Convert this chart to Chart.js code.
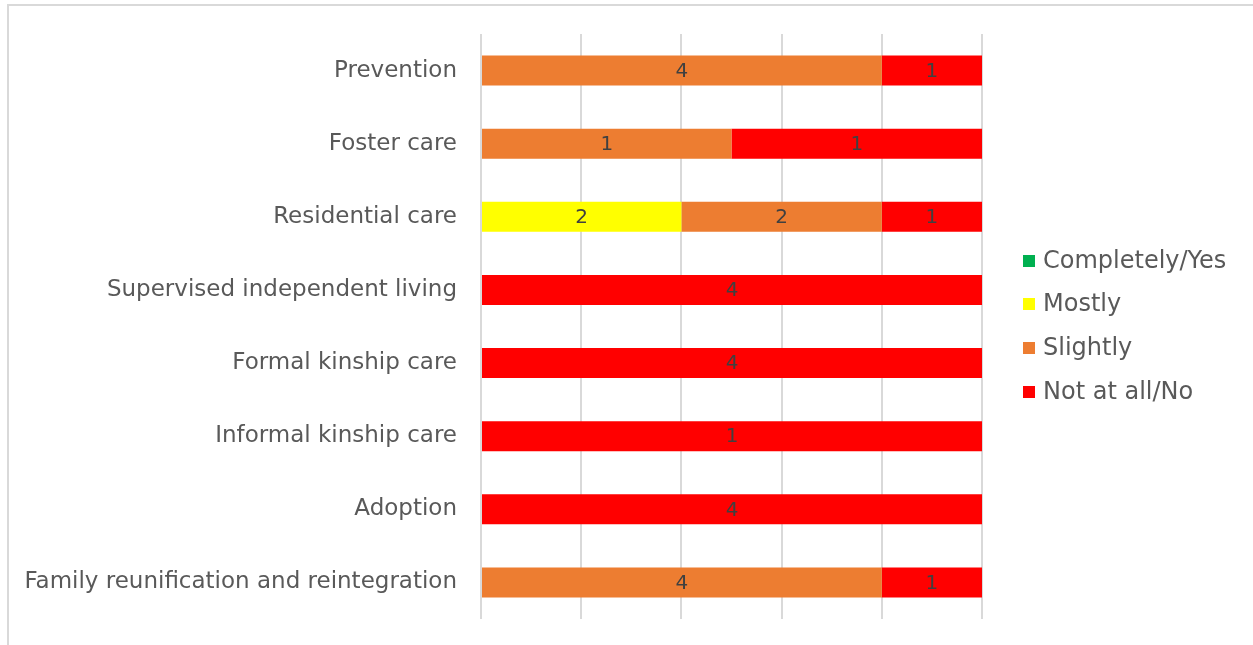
<!DOCTYPE html>
<html>
<head>
<meta charset="utf-8">
<script src="https://cdn.jsdelivr.net/npm/chart.js@4"></script>
<style>
  body { margin: 0; background: #fff; overflow: hidden; }
  #frame { position: absolute; left: 7px; top: 4px; width: 1260px; height: 660px;
           border-left: 2px solid #d9d9d9; border-top: 2px solid #d9d9d9; }
  #wrap { position: absolute; left: 0; top: 0; width: 1253px; height: 645px; }
</style>
</head>
<body>
<div id="frame"></div>
<div id="wrap"><canvas id="barChart"></canvas></div>
<script>
// Responses per care type (counts)
const categories = ['Prevention', 'Foster care', 'Residential care', 'Supervised independent living',
  'Formal kinship care', 'Informal kinship care', 'Adoption', 'Family reunification and reintegration'];
const completely = [0, 0, 0, 0, 0, 0, 0, 0];
const mostly     = [0, 0, 2, 0, 0, 0, 0, 0];
const slightly   = [4, 1, 2, 0, 0, 0, 0, 4];
const notAtAll   = [1, 1, 1, 4, 4, 1, 4, 1];
const xTicks = [0, 20, 40, 60, 80, 100];

const seriesNames = ['Completely/Yes', 'Mostly', 'Slightly', 'Not at all/No'];
const seriesCounts = [completely, mostly, slightly, notAtAll];
const seriesColors = ['#00b050', '#ffff00', '#ed7d31', '#ff0000'];

const totals = categories.map((_, i) => seriesCounts.reduce((s, arr) => s + arr[i], 0));
const FONT = '"DejaVu Sans", sans-serif';

// value labels in the middle of each segment
const segmentLabels = {
  id: 'segmentLabels',
  afterDatasetsDraw(chart) {
    const ctx = chart.ctx;
    ctx.save();
    ctx.font = '20px ' + FONT;
    ctx.fillStyle = '#404040';
    ctx.textAlign = 'center';
    ctx.textBaseline = 'middle';
    chart.data.datasets.forEach((ds, di) => {
      chart.getDatasetMeta(di).data.forEach((bar, i) => {
        const n = ds.counts[i];
        if (!n) return;
        const p = bar.getProps(['x', 'y', 'base'], true);
        ctx.fillText(String(n), (p.x + p.base) / 2, p.y + 1);
      });
    });
    ctx.restore();
  }
};

// legend column on the right
const sideLegend = {
  id: 'sideLegend',
  afterDraw(chart) {
    const ctx = chart.ctx;
    ctx.save();
    ctx.font = '24px ' + FONT;
    ctx.textBaseline = 'middle';
    const rows = [261, 304, 348, 392];
    chart.data.datasets.forEach((ds, di) => {
      const y = rows[di];
      ctx.fillStyle = ds.backgroundColor;
      ctx.fillRect(1023, y - 6, 12, 12);
      ctx.fillStyle = '#595959';
      ctx.fillText(ds.label, 1043, y + 1);
    });
    ctx.restore();
  }
};

new Chart(document.getElementById('barChart'), {
  type: 'bar',
  data: {
    labels: categories,
    datasets: seriesNames.map((name, k) => ({
      label: name,
      counts: seriesCounts[k],
      data: seriesCounts[k].map((v, i) => v / totals[i] * 100),
      backgroundColor: seriesColors[k],
      borderWidth: 0,
      barPercentage: 0.41,
      categoryPercentage: 1
    }))
  },
  options: {
    indexAxis: 'y',
    responsive: true,
    maintainAspectRatio: false,
    animation: false,
    layout: { padding: { left: 0, right: 271, top: 34, bottom: 26 } },
    plugins: {
      legend: { display: false },
      tooltip: { enabled: false }
    },
    scales: {
      x: {
        stacked: true,
        min: xTicks[0],
        max: xTicks[xTicks.length - 1],
        afterBuildTicks: (scale) => { scale.ticks = xTicks.map(v => ({ value: v })); },
        afterFit: (scale) => { scale.height = 0; },
        ticks: { display: false },
        border: { display: false },
        grid: { color: '#d9d9d9', lineWidth: 2, drawTicks: false }
      },
      y: {
        stacked: true,
        afterFit: (scale) => {
          scale.width = 481;
          scale.paddingTop = 0;
          scale.paddingBottom = 0;
        },
        border: { display: false },
        grid: { display: false, drawTicks: false },
        ticks: { padding: 24, color: '#595959', font: { family: FONT, size: 23 } }
      }
    }
  },
  plugins: [segmentLabels, sideLegend]
});
</script>
</body>
</html>
